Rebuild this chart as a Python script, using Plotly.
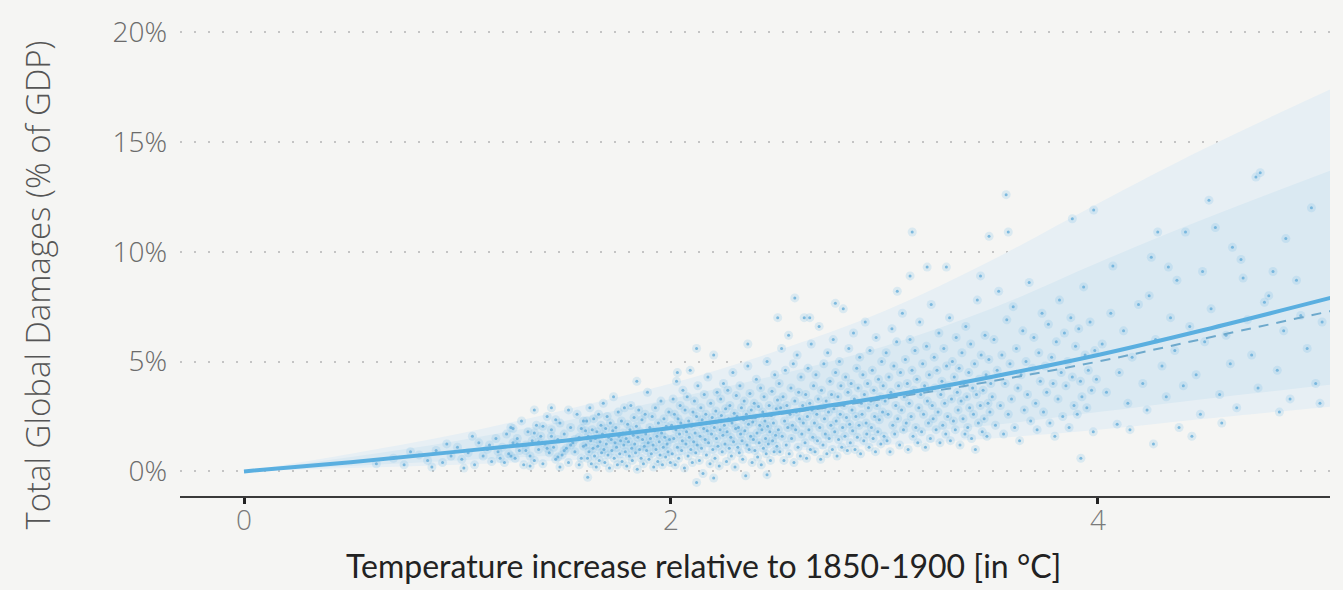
import plotly.graph_objects as go

# ---------------- data ----------------
curve_t = [0, 0.5, 1, 1.5, 2, 2.5, 3, 3.5, 4, 4.5, 5.09]
central_fit = [0, 0.42, 0.9, 1.4, 1.98, 2.65, 3.4, 4.3, 5.3, 6.45, 7.9]
alt_fit = [0, 0.42, 0.9, 1.4, 1.97, 2.6, 3.3, 4.1, 5.0, 6.05, 7.3]
outer_hi = [0, 0.8, 1.7, 2.8, 4.0, 5.5, 7.3, 9.6, 12.2, 14.7, 17.4]
inner_hi = [0, 0.65, 1.4, 2.3, 3.3, 4.4, 5.7, 7.4, 9.5, 11.5, 13.7]
inner_lo = [0, 0.25, 0.5, 0.75, 1.0, 1.3, 1.7, 2.1, 2.7, 3.3, 3.95]
outer_lo = [0, 0.15, 0.3, 0.5, 0.7, 0.9, 1.2, 1.5, 1.9, 2.4, 2.95]

x_ticks = [0, 2, 4]
y_ticks = [0, 5, 10, 15, 20]
y_tick_labels = ["0%", "5%", "10%", "15%", "20%"]

scatter_points = [
    (0.62,0.35),(0.7,0.6),(0.75,0.3),(0.82,0.75),(0.86,0.5),(0.9,0.95),(0.93,0.4),(0.97,0.7),(1.0,1.1),(1.02,0.55),
    (1.05,0.85),(1.08,0.3),(1.1,1.3),(1.12,0.7),(1.14,1.0),(1.16,0.45),(1.18,1.5),(1.19,0.9),(0.88,0.2),(1.03,0.15),
    (0.78,0.9),(1.15,1.2),(1.07,1.6),(0.95,1.25),(1.2,0.6),
    (1.21,1.1),(1.22,0.4),(1.23,1.7),(1.24,0.8),(1.25,2.0),(1.26,1.3),(1.27,0.6),(1.28,1.5),(1.29,0.95),(1.3,2.3),
    (1.31,0.3),(1.32,1.2),(1.33,1.8),(1.34,0.7),(1.35,1.4),(1.36,0.5),(1.37,2.1),(1.38,1.0),(1.39,1.6),(1.4,0.35),
    (1.41,1.25),(1.42,2.5),(1.43,0.85),(1.44,1.9),(1.45,1.1),(1.46,0.55),(1.47,1.45),(1.48,2.2),(1.49,0.75),(1.5,1.7),
    (1.51,1.05),(1.52,0.4),(1.53,2.0),(1.54,1.3),(1.55,0.9),(1.56,2.6),(1.57,1.55),(1.58,0.6),(1.59,1.15),(1.6,1.85),
    (1.26,1.95),(1.34,0.25),(1.42,1.05),(1.48,0.2),(1.52,2.8),(1.58,1.95),(1.44,1.6),(1.36,1.75),(1.28,1.25),(1.5,0.95),
    (1.55,1.45),(1.4,2.05),(1.32,0.95),(1.46,2.35),(1.57,0.3),(1.25,0.7),(1.38,1.35),(1.53,1.2),(1.47,0.65),(1.59,2.3),
    (1.601,1.2),(1.605,2.3),(1.609,0.6),(1.612,1.6),(1.616,0.9),(1.62,2.9),(1.624,1.4),(1.627,0.35),(1.631,1.9),(1.635,1.05),
    (1.638,2.4),(1.642,0.7),(1.646,1.5),(1.65,0.2),(1.653,1.8),(1.657,1.15),(1.661,2.6),(1.664,0.5),(1.668,1.35),(1.672,2.1),
    (1.675,0.85),(1.679,1.7),(1.683,3.1),(1.686,1.0),(1.69,0.4),(1.694,1.95),(1.697,1.25),(1.701,2.5),(1.705,0.75),(1.708,1.55),
    (1.712,0.15),(1.716,2.2),(1.72,1.45),(1.723,0.95),(1.727,1.85),(1.731,3.4),(1.734,0.6),(1.738,1.3),(1.742,2.0),(1.745,1.1),
    (1.749,0.3),(1.753,2.7),(1.756,1.6),(1.76,0.8),(1.764,1.4),(1.768,2.3),(1.771,0.45),(1.775,1.75),(1.779,1.2),(1.782,2.9),
    (1.786,0.9),(1.79,1.5),(1.793,0.25),(1.797,2.15),(1.801,1.35),(1.805,0.7),(1.808,1.9),(1.812,3.0),(1.816,1.05),(1.819,0.5),
    (1.823,1.65),(1.827,2.45),(1.83,1.25),(1.834,0.85),(1.838,2.05),(1.842,0.1),(1.845,1.55),(1.849,2.8),(1.853,1.0),(1.856,1.8),
    (1.86,0.6),(1.864,2.35),(1.867,1.45),(1.871,0.35),(1.875,1.15),(1.879,2.6),(1.882,1.7),(1.886,0.95),(1.89,3.6),(1.893,1.3),
    (1.897,0.55),(1.901,2.0),(1.904,1.5),(1.908,0.8),(1.912,2.5),(1.916,1.2),(1.919,0.2),(1.923,1.85),(1.927,2.9),(1.93,1.0),
    (1.934,1.6),(1.938,0.45),(1.941,2.2),(1.945,1.35),(1.949,0.75),(1.953,3.2),(1.956,1.75),(1.96,0.3),(1.964,1.1),(1.967,2.4),
    (1.971,1.55),(1.975,0.65),(1.978,2.05),(1.982,1.25),(1.986,0.9),(1.99,2.7),(1.993,1.45),(1.997,0.4),
    (2.003,2.1),(2.006,0.8),(2.01,3.3),(2.013,1.5),(2.016,2.6),(2.02,0.3),(2.023,1.9),(2.026,4.1),(2.03,1.1),(2.033,2.4),
    (2.036,0.6),(2.04,1.7),(2.043,3.0),(2.046,2.2),(2.05,0.95),(2.053,1.4),(2.056,3.7),(2.06,2.0),(2.063,0.15),(2.066,2.8),
    (2.07,1.25),(2.073,1.8),(2.076,3.4),(2.08,0.7),(2.083,2.3),(2.086,1.55),(2.09,4.6),(2.093,1.0),(2.096,2.05),(2.1,0.4),
    (2.103,2.7),(2.106,1.35),(2.11,3.2),(2.113,1.75),(2.116,0.85),(2.12,2.5),(2.123,1.2),(2.126,3.9),(2.13,2.15),(2.133,0.5),
    (2.136,1.6),(2.14,2.9),(2.143,1.05),(2.146,2.35),(2.15,-0.1),(2.153,1.95),(2.156,3.5),(2.16,1.45),(2.163,2.6),(2.166,0.75),
    (2.17,1.85),(2.173,4.3),(2.176,1.3),(2.18,2.2),(2.183,0.35),(2.186,3.1),(2.19,1.7),(2.193,2.45),(2.196,1.0),(2.2,5.3),
    (2.203,2.0),(2.206,0.6),(2.21,2.75),(2.213,1.5),(2.216,3.6),(2.22,1.15),(2.223,2.3),(2.226,0.25),(2.23,1.9),(2.233,3.3),
    (2.236,2.55),(2.24,0.9),(2.243,1.65),(2.246,4.0),(2.25,2.1),(2.253,1.25),(2.256,2.85),(2.26,0.45),(2.263,1.8),(2.266,3.7),
    (2.27,2.4),(2.273,1.05),(2.276,3.0),(2.28,1.55),(2.283,0.7),(2.286,2.2),(2.29,4.5),(2.293,1.35),(2.296,2.65),(2.3,0.2),
    (2.303,1.95),(2.306,3.45),(2.31,2.5),(2.313,1.1),(2.316,2.0),(2.32,0.85),(2.323,3.9),(2.326,1.7),(2.33,2.9),(2.333,1.4),
    (2.336,0.55),(2.34,2.35),(2.343,3.2),(2.346,1.85),(2.35,-0.2),(2.353,2.6),(2.356,1.2),(2.36,4.8),(2.363,2.15),(2.366,1.0),
    (2.37,3.55),(2.373,1.6),(2.376,2.8),(2.38,0.4),(2.383,2.25),(2.386,1.45),(2.39,3.1),(2.393,0.95),(2.396,2.45),(2.4,4.2),
    (2.403,1.75),(2.406,0.65),(2.41,2.95),(2.413,1.3),(2.416,2.1),(2.42,3.8),(2.423,0.3),(2.426,1.9),(2.43,2.7),(2.433,1.05),
    (2.436,3.4),(2.44,2.3),(2.443,1.5),(2.446,0.8),(2.45,5.0),(2.453,2.05),(2.456,1.25),(2.46,3.0),(2.463,1.8),(2.466,0.5),
    (2.47,2.55),(2.473,3.65),(2.476,1.4),(2.48,2.2),(2.483,0.9),(2.486,4.4),(2.49,1.65),(2.493,2.85),(2.496,1.15),(2.499,3.25),
    (2.503,1.9),(2.507,4.0),(2.51,0.9),(2.514,2.9),(2.518,5.6),(2.521,1.6),(2.525,3.4),(2.529,0.5),(2.532,2.3),(2.536,4.6),
    (2.54,1.2),(2.543,3.0),(2.547,2.0),(2.551,6.2),(2.554,0.8),(2.558,2.6),(2.562,3.8),(2.565,1.5),(2.569,2.1),(2.573,4.9),
    (2.576,0.4),(2.58,3.2),(2.584,1.9),(2.587,2.7),(2.591,5.3),(2.595,1.1),(2.598,3.6),(2.602,2.4),(2.606,0.7),(2.609,4.3),
    (2.613,1.7),(2.617,3.0),(2.62,2.2),(2.624,7.0),(2.628,1.3),(2.631,3.5),(2.635,0.6),(2.639,2.5),(2.642,4.7),(2.646,1.9),
    (2.65,3.1),(2.653,1.0),(2.657,5.8),(2.661,2.8),(2.664,1.55),(2.668,3.9),(2.672,2.2),(2.675,0.9),(2.679,4.4),(2.683,2.6),
    (2.686,1.4),(2.69,3.3),(2.694,6.6),(2.697,2.0),(2.701,0.55),(2.705,3.7),(2.708,2.9),(2.712,1.2),(2.716,4.9),(2.719,2.4),
    (2.723,1.7),(2.727,3.2),(2.73,0.8),(2.734,5.4),(2.738,2.7),(2.741,1.5),(2.745,4.1),(2.749,2.1),(2.752,3.5),(2.756,1.0),
    (2.76,6.0),(2.763,2.85),(2.767,1.8),(2.771,4.5),(2.774,2.3),(2.778,0.7),(2.782,3.4),(2.785,1.45),(2.789,5.0),(2.793,2.6),
    (2.796,3.9),(2.8,1.1),(2.804,2.0),(2.807,7.4),(2.811,3.0),(2.815,1.6),(2.818,4.3),(2.822,2.45),(2.826,0.95),(2.829,3.6),
    (2.833,5.6),(2.837,2.15),(2.84,1.3),(2.844,4.0),(2.848,2.8),(2.851,1.85),(2.855,6.3),(2.859,3.3),(2.862,1.0),(2.866,2.5),
    (2.87,4.7),(2.873,1.55),(2.877,3.8),(2.881,2.1),(2.884,5.2),(2.888,0.8),(2.892,3.1),(2.895,2.6),(2.899,4.4),(2.903,1.4),
    (2.906,3.5),(2.91,6.8),(2.914,2.2),(2.917,1.7),(2.921,4.0),(2.925,2.9),(2.928,1.1),(2.932,5.5),(2.936,3.2),(2.939,2.0),
    (2.943,4.6),(2.947,1.5),(2.95,3.7),(2.954,2.5),(2.958,0.9),(2.961,6.1),(2.965,3.0),(2.969,1.8),(2.972,4.2),(2.976,2.35),
    (2.98,3.4),(2.983,1.25),(2.987,5.0),(2.991,2.7),(2.994,3.9),(2.998,1.6),
    (3.003,3.2),(3.008,5.4),(3.012,1.4),(3.017,2.6),(3.021,4.3),(3.026,0.9),(3.03,3.6),(3.035,6.5),(3.039,2.1),(3.044,4.8),
    (3.048,1.7),(3.053,3.0),(3.057,5.9),(3.062,2.4),(3.066,3.9),(3.071,1.2),(3.075,4.5),(3.08,2.8),(3.084,7.2),(3.089,1.9),
    (3.093,3.4),(3.098,5.1),(3.102,2.2),(3.107,4.0),(3.111,1.0),(3.116,3.1),(3.12,6.0),(3.125,2.5),(3.129,4.6),(3.134,1.6),
    (3.138,3.7),(3.143,5.5),(3.147,2.0),(3.152,4.2),(3.156,1.3),(3.161,2.9),(3.165,6.8),(3.17,3.5),(3.174,1.8),(3.179,4.9),
    (3.183,2.6),(3.188,3.9),(3.192,1.1),(3.197,5.7),(3.201,3.2),(3.206,2.2),(3.21,4.4),(3.215,1.5),(3.219,7.6),(3.224,3.0),
    (3.228,2.4),(3.233,5.2),(3.237,3.8),(3.242,1.9),(3.246,4.6),(3.251,2.7),(3.255,6.3),(3.26,1.3),(3.264,3.5),(3.269,4.1),
    (3.273,2.1),(3.278,5.6),(3.282,3.1),(3.287,1.7),(3.291,4.8),(3.296,2.5),(3.3,3.9),(3.305,7.0),(3.309,1.4),(3.314,3.3),
    (3.318,5.0),(3.323,2.3),(3.327,4.3),(3.332,1.9),(3.336,6.1),(3.341,3.6),(3.345,2.8),(3.35,4.7),(3.354,1.2),(3.359,3.2),
    (3.363,5.4),(3.368,2.4),(3.372,4.0),(3.377,1.7),(3.381,6.6),(3.386,3.4),(3.39,2.0),(3.395,4.5),(3.399,2.9),(3.404,5.8),
    (3.408,1.5),(3.413,3.8),(3.417,2.6),(3.422,4.9),(3.426,1.0),(3.431,3.5),(3.435,7.8),(3.44,2.2),(3.444,4.2),(3.449,3.0),
    (3.453,5.3),(3.458,1.8),(3.462,3.7),(3.467,2.4),(3.471,6.2),(3.476,4.4),(3.48,1.6),(3.485,3.1),(3.489,5.1),(3.494,2.7),
    (3.498,4.0),
    (3.505,3.4),(3.513,6.0),(3.52,2.1),(3.528,4.6),(3.535,8.2),(3.543,3.0),(3.55,5.3),(3.558,1.7),(3.565,4.0),(3.573,6.9),
    (3.58,2.6),(3.588,4.9),(3.595,3.3),(3.603,7.5),(3.61,2.0),(3.618,5.6),(3.625,3.8),(3.633,1.4),(3.64,4.4),(3.648,6.4),
    (3.655,2.8),(3.663,5.0),(3.67,3.5),(3.678,8.6),(3.685,2.3),(3.693,4.7),(3.7,6.1),(3.708,3.1),(3.715,1.9),(3.723,5.4),
    (3.73,4.1),(3.738,7.2),(3.745,2.7),(3.753,4.8),(3.76,3.6),(3.768,6.7),(3.775,2.2),(3.783,5.2),(3.79,4.0),(3.798,1.6),
    (3.805,5.9),(3.813,3.3),(3.82,7.8),(3.828,4.5),(3.835,2.5),(3.843,6.3),(3.85,3.9),(3.858,5.0),(3.865,2.0),(3.873,7.0),
    (3.88,4.3),(3.888,3.0),(3.895,5.7),(3.903,2.6),(3.91,6.5),(3.918,4.1),(3.925,3.4),(3.933,8.4),(3.94,5.3),(3.948,2.9),
    (3.955,4.6),(3.963,6.8),(3.97,3.7),(3.978,1.8),(3.985,5.5),(3.993,4.2),
    (4.07,9.35),(4.25,9.75),(4.67,9.65),(4.82,9.1),(4.93,8.7),(4.49,9.1),(4.28,10.9),(4.41,10.9),(4.55,11.1),(4.52,12.35),
    (4.76,13.6),(4.74,13.4),(5.0,12.0),(4.09,2.15),(4.26,1.25),(4.38,2.0),(4.8,8.0),(4.37,8.7),(4.68,8.8),(4.24,8.0),
    (4.02,5.8),(4.04,3.6),(4.06,7.2),(4.1,4.5),(4.12,6.4),(4.14,3.1),(4.16,5.2),(4.19,7.6),(4.21,4.0),(4.23,2.8),
    (4.27,6.0),(4.3,4.8),(4.32,3.4),(4.34,7.0),(4.36,5.5),(4.4,3.9),(4.43,6.6),(4.46,4.4),(4.48,2.6),(4.5,5.9),
    (4.53,7.4),(4.57,3.5),(4.6,6.2),(4.62,4.9),(4.65,2.9),(4.7,6.9),(4.72,5.3),(4.75,3.8),(4.78,7.7),(4.84,4.6),
    (4.87,6.4),(4.9,3.3),(4.95,7.1),(4.98,5.6),(5.02,4.0),(5.05,6.8),(4.44,1.6),(4.58,2.2),(4.85,2.7),(5.04,3.1),
    (3.92,0.6),(4.15,1.9),(4.33,9.3),(4.63,10.2),(4.88,10.6),
    (3.2,9.3),(3.12,8.9),(2.77,7.65),(3.06,8.2),(3.29,9.3),(3.13,10.9),(3.57,12.6),(3.88,11.5),(3.49,10.7),(3.58,10.9),
    (3.45,8.9),(3.98,11.9),(2.5,7.0),(2.65,7.0),(2.03,4.5),(1.84,4.1),(1.36,2.8),(1.44,2.9),(2.36,5.8),(2.12,5.6),
    (2.58,7.9),(2.12,-0.5),(1.61,-0.27),(2.2,-0.3),(2.45,-0.15),
]

scatter_t = [p[0] for p in scatter_points]
scatter_y = [p[1] for p in scatter_points]

# ---------------- figure ----------------
BG = "#f5f5f3"
LINE = "#5aafe0"
TICK_FONT = "Open Sans, Lato, sans-serif"

fig = go.Figure()

# uncertainty bands
fig.add_trace(go.Scatter(x=curve_t, y=outer_lo, mode="lines", line=dict(width=0, shape="spline"),
                         showlegend=False, hoverinfo="skip"))
fig.add_trace(go.Scatter(x=curve_t, y=outer_hi, mode="lines", line=dict(width=0, shape="spline"),
                         fill="tonexty", fillcolor="#e7eff4", showlegend=False, hoverinfo="skip"))
fig.add_trace(go.Scatter(x=curve_t, y=inner_lo, mode="lines", line=dict(width=0, shape="spline"),
                         showlegend=False, hoverinfo="skip"))
fig.add_trace(go.Scatter(x=curve_t, y=inner_hi, mode="lines", line=dict(width=0, shape="spline"),
                         fill="tonexty", fillcolor="#dae9f2", showlegend=False, hoverinfo="skip"))

# scatter cloud: soft wash layer + fine dots of the same points
fig.add_trace(go.Scatter(x=scatter_t, y=scatter_y, mode="markers",
                         marker=dict(size=9, color="rgba(120,190,232,0.21)", line=dict(width=0)),
                         showlegend=False, hoverinfo="skip"))
fig.add_trace(go.Scatter(x=scatter_t, y=scatter_y, mode="markers",
                         marker=dict(size=3, color="rgba(100,172,218,0.8)", line=dict(width=0)),
                         showlegend=False, hoverinfo="skip"))

# fitted lines
fig.add_trace(go.Scatter(x=curve_t, y=alt_fit, mode="lines",
                         line=dict(color="#6ea9cc", width=2, dash="10px,8px", shape="spline"),
                         showlegend=False))
fig.add_trace(go.Scatter(x=curve_t, y=central_fit, mode="lines",
                         line=dict(color=LINE, width=4, shape="spline"),
                         showlegend=False))

fig.update_layout(
    width=1343, height=590,
    margin=dict(l=180, r=13, t=23, b=94),
    paper_bgcolor=BG, plot_bgcolor=BG,
    font=dict(family=TICK_FONT, color="#6b6b6b"),
    showlegend=False,
    xaxis=dict(
        range=[-0.2998, 5.087], tickvals=x_ticks, ticktext=[str(v) for v in x_ticks],
        showgrid=False, zeroline=False,
        showline=True, linecolor="#3a3a3a", linewidth=2,
        ticks="outside", ticklen=6, tickwidth=3, tickcolor="#222",
        ticklabelstandoff=-8,
        tickfont=dict(size=28, color="#7a7a7a", family=TICK_FONT, weight=300),
    ),
    yaxis=dict(
        range=[-1.12, 20.05], tickvals=y_ticks, ticktext=y_tick_labels,
        showgrid=True, gridcolor="#c4c4c4", gridwidth=2, griddash="2px,12px",
        zeroline=False, showline=False, ticks="",
        ticklabelstandoff=12,
        tickfont=dict(size=28, color="#6b6b6b", family=TICK_FONT, weight=300),
    ),
    annotations=[
        dict(text="Total Global Damages (% of GDP)", textangle=-90,
             x=38, y=282, xref="paper", yref="paper", showarrow=False,
             font=dict(size=33, color="#555555", family=TICK_FONT, weight=300)),
        dict(text="Temperature increase relative to 1850-1900 [in °C]",
             x=703, y=567, xref="paper", yref="paper", showarrow=False,
             font=dict(size=32, color="#222222", family="Lato, sans-serif")),
    ],
)

# convert pixel positions of the two title annotations into paper coords
plot_w = 1343 - 180 - 13
plot_h = 590 - 23 - 94
for a in fig.layout.annotations:
    px, py = a.x, a.y
    a.x = (px - 180) / plot_w
    a.y = 1 - (py - 23) / plot_h
    a.xanchor = "center"
    a.yanchor = "middle"

fig.write_html(
    "out.html",
    config={"displayModeBar": False},
    post_script="document.body.style.margin='0';document.body.style.background='#f5f5f3';",
)
